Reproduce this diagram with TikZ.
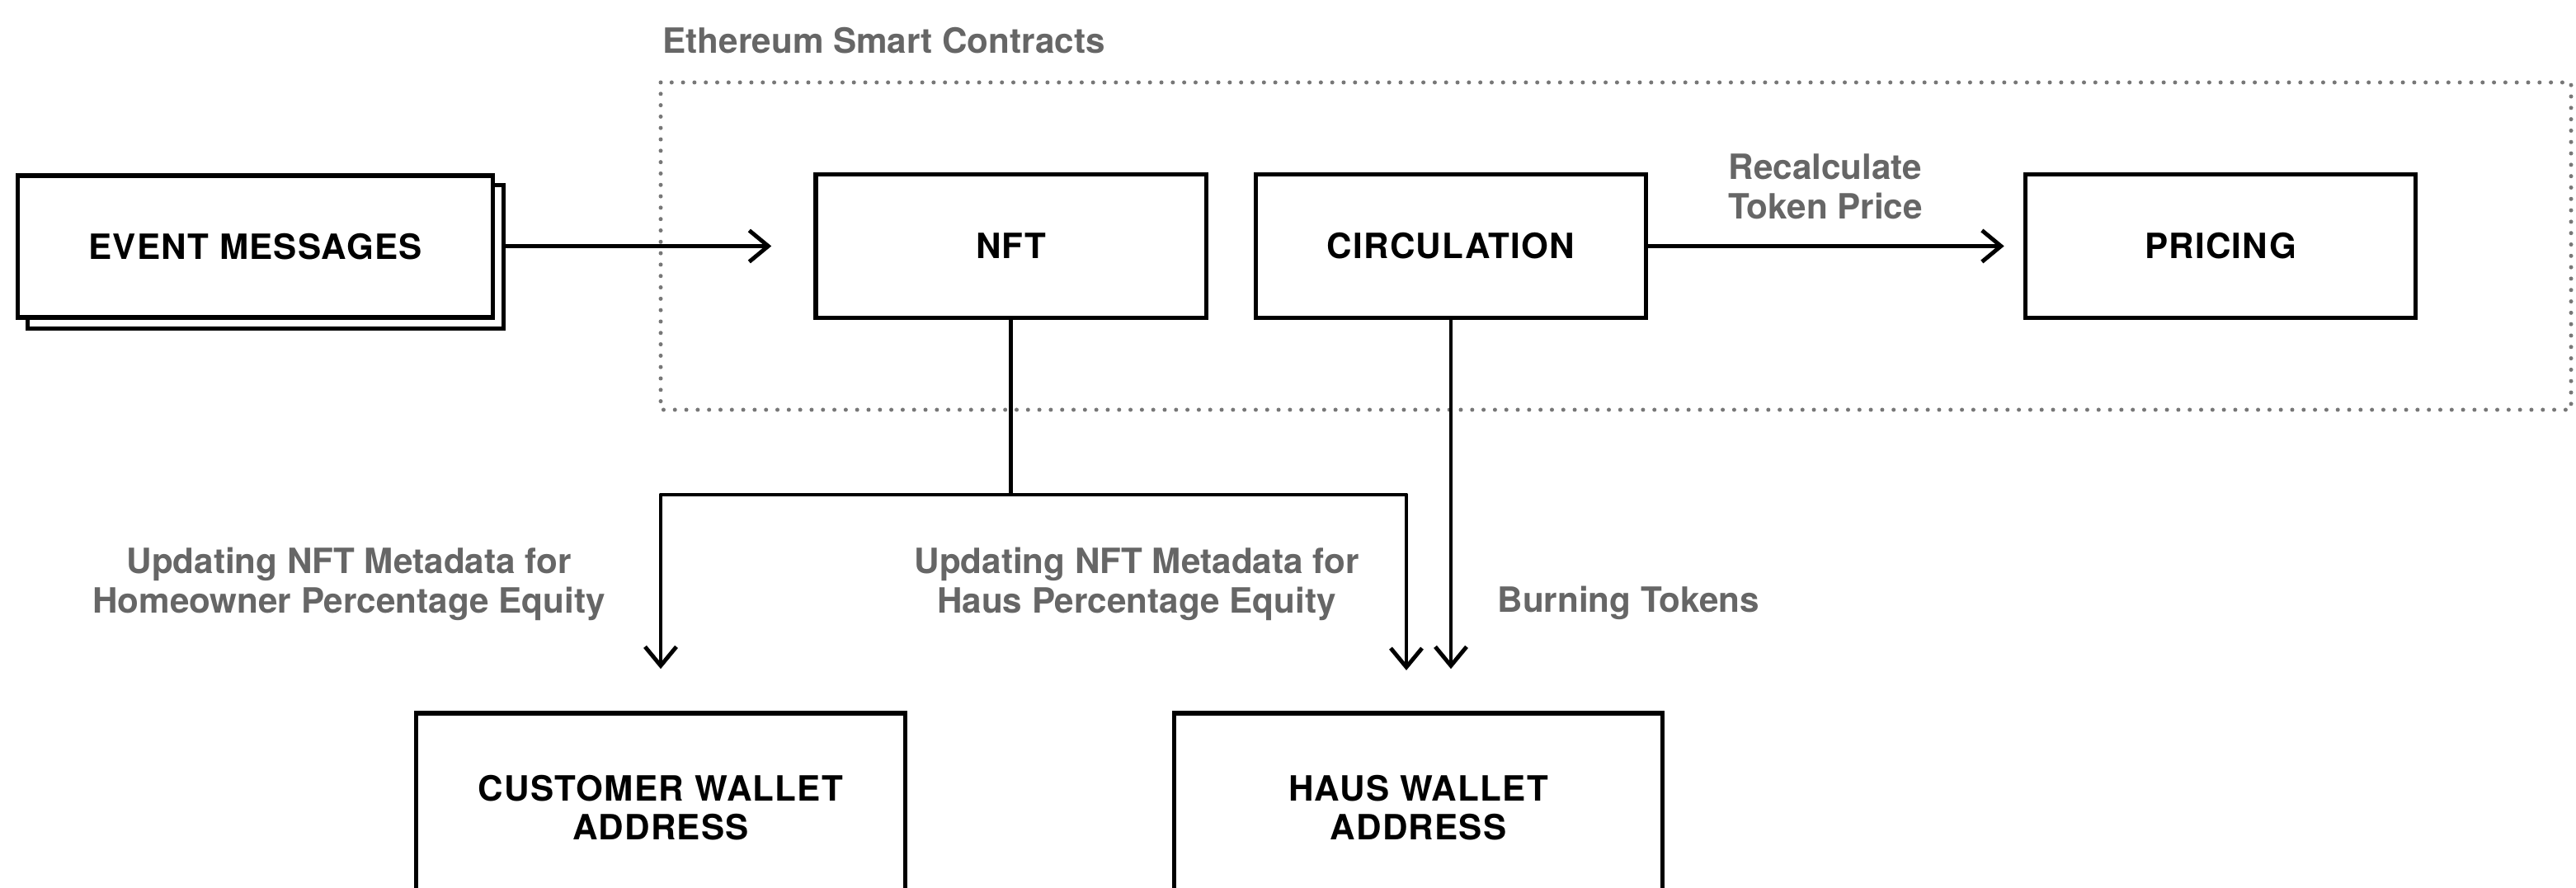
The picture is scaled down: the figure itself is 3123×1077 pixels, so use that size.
\documentclass[tikz,border=0pt]{standalone}
\usepackage{fontspec}
\setmainfont{TeX Gyre Heros}
\usetikzlibrary{arrows.meta}
\definecolor{labelgray}{HTML}{666666}
\definecolor{dotgray}{HTML}{777777}
\newcommand\boxfont{\fontsize{12}{13.4}\selectfont\bfseries\addfontfeatures{LetterSpace=3}}
\newcommand\lblfont{\fontsize{12}{13.6}\selectfont\bfseries}
\begin{document}
\begin{tikzpicture}[x=0.01cm,y=-0.01cm,
  box/.style={draw=black,line width=1.5pt,fill=white,minimum height=1.74cm,minimum width=4.73cm,align=center,font=\boxfont,inner sep=0pt},
  lbl/.style={text=labelgray,font=\lblfont,align=center,inner sep=0pt},
  conn/.style={line width=1.4pt},
  arr/.style={conn,line join=round,-{Straight Barb[length=2.3mm,width=3.8mm]}},
  dotbox/.style={draw=dotgray,line width=0.05cm,line cap=round,dash pattern=on 0pt off 0.138cm}
]
\useasboundingbox (0,0) rectangle (3123,1077);
\clip (0,0) rectangle (3123,1077);
\fill[white] (0,0) rectangle (3123,1077);

% dotted container
\draw[dotbox] (801,100) rectangle (3117,497);
\node[lbl,anchor=base west] (title) at (803,65) {Ethereum Smart Contracts};

% boxes
\node[box,minimum width=5.76cm,minimum height=1.74cm] (evs) at (322,311.5) {};
\node[box,minimum width=5.76cm,minimum height=1.72cm] (ev) at (309.5,299) {EVENT MESSAGES};
\node[box] (nft) at (1225.5,298.5) {NFT};
\node[box] (circ) at (1759,298.5) {CIRCULATION};
\node[box] (price) at (2692,298.5) {PRICING};
\node[box,minimum width=5.92cm,minimum height=2.3cm] (cust) at (801,980) {CUSTOMER WALLET\\ADDRESS};
\node[box,minimum width=5.92cm,minimum height=2.3cm] (haus) at (1719.5,980) {HAUS WALLET\\ADDRESS};

% connectors
\coordinate (hy) at (0,600);
\coordinate (hr) at (1705,600);
\coordinate (hrt) at (1705,813);
\draw[arr] (evs.east |- nft.west) -- ([xshift=-0.51cm]nft.west);
\draw[arr] (circ.east) -- ([xshift=-0.23cm]price.west);
\draw[conn] (nft.south) -- (nft.south |- hy);
\draw[arr] (nft.south |- hy) -- (cust.north |- hy) -- ([yshift=0.51cm]cust.north);
\draw[arr] (nft.south |- hy) -- (hr) -- (hrt);
\draw[arr] (circ.south) -- ([yshift=0.51cm]circ.south |- haus.north);

% labels
\node[lbl] (recalc) at (2213,226) {Recalculate\\Token Price};
\node[lbl] (l1) at (423,708) {Updating NFT Metadata for\\Homeowner Percentage Equity};
\node[lbl] (l2) at (1378,708) {Updating NFT Metadata for\\Haus Percentage Equity};
\node[lbl,anchor=base west] (burn) at (1815,743) {Burning Tokens};
\end{tikzpicture}
\end{document}
